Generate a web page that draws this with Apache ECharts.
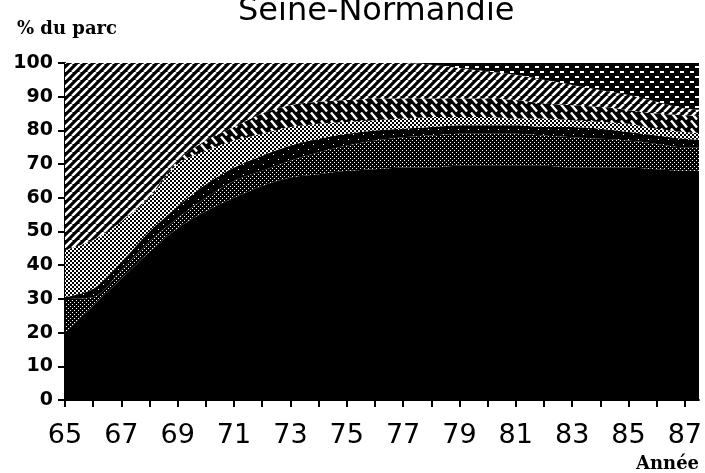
<!DOCTYPE html>
<html>
<head>
<meta charset="utf-8">
<script src="https://cdn.jsdelivr.net/npm/echarts@6/dist/echarts.min.js"></script>
<style>
  html, body { margin: 0; padding: 0; background: #fff; }
  #chart { width: 705px; height: 473px; }
</style>
</head>
<body>
<div id="chart"></div>
<script>
// années (65 = 1965)
var years = [65, 66, 67, 68, 69, 70, 71, 72, 73, 74, 75, 76, 77, 78, 79, 80, 81, 82, 83, 84, 85, 86, 87, 88]
var yTicks = [0, 10, 20, 30, 40, 50, 60, 70, 80, 90, 100]

// parts du parc (%) par couche, de bas en haut (empilées)
var layerA = [20, 28, 36, 44, 51, 56, 60, 63.5, 66, 67, 68, 68.5, 69, 69, 69.5, 69.5, 69.5, 69.5, 69, 69, 69, 68.5, 68, 68]
var layerB = [10, 2.5, 2.5, 3, 3, 4, 5, 4.5, 5, 6.5, 7.5, 8.5, 9, 9.5, 9.5, 9.5, 9.5, 9, 9, 8.5, 8, 7.5, 7, 7]
var layerC = [0.5, 2.5, 2.5, 3, 3.5, 4, 4, 4.5, 4.5, 4, 3.5, 3, 2.5, 2.5, 2.5, 2.5, 2.5, 2.5, 3, 3, 2.5, 2.5, 2.5, 2]
var layerD = [14, 14.5, 12, 10, 12.5, 10, 8, 6.5, 5.5, 4.5, 3.5, 3, 3, 3, 2.5, 2.5, 2, 2.5, 2, 2, 2.5, 2, 2, 2]
var layerF = [0, 0, 0, 0.5, 1, 3, 4, 6, 6.5, 6.5, 6.5, 6.5, 6, 5.5, 5.5, 5.5, 5.5, 4.5, 4.5, 4.5, 4, 4.5, 5, 5]
var layerG = [55.5, 52.5, 47, 39.5, 29, 23, 19, 15, 12.5, 11.5, 11, 10.5, 10.5, 10, 9, 8, 7.5, 7, 6, 5, 4.5, 3.5, 2, 2]
var layerH = [0, 0, 0, 0, 0, 0, 0, 0, 0, 0, 0, 0, 0, 0.5, 1.5, 2.5, 3.5, 5, 6.5, 8, 9.5, 11.5, 13.5, 14]

// motifs noir et blanc
function makePattern(w, h, draw) {
  var c = document.createElement('canvas')
  c.width = w
  c.height = h
  var ctx = c.getContext('2d')
  ctx.fillStyle = '#000'
  ctx.fillRect(0, 0, w, h)
  ctx.fillStyle = '#fff'
  ctx.strokeStyle = '#fff'
  draw(ctx)
  return { image: c, repeat: 'repeat' }
}

var patStipple = makePattern(4, 4, function(ctx) {
  ctx.fillRect(0, 0, 1, 1)
  ctx.fillRect(2, 2, 1, 1)
})
var patSpecks = makePattern(10, 10, function(ctx) {
  ctx.fillRect(3, 4, 1, 1)
  ctx.fillRect(8, 9, 1, 1)
})
var patChecker = makePattern(4, 4, function(ctx) {
  ctx.fillRect(0, 0, 2, 2)
  ctx.fillRect(2, 2, 2, 2)
})
var patBack = makePattern(10, 8, function(ctx) {
  ctx.lineWidth = 2.4
  ctx.beginPath()
  ctx.moveTo(1, 0.5)
  ctx.lineTo(7, 7.5)
  ctx.stroke()
})
var patSlash = makePattern(8, 8, function(ctx) {
  ctx.lineWidth = 2.6
  ctx.beginPath()
  ctx.moveTo(-8, 8); ctx.lineTo(0, 0)
  ctx.moveTo(0, 8); ctx.lineTo(8, 0)
  ctx.moveTo(8, 8); ctx.lineTo(16, 0)
  ctx.stroke()
})
var patDash = makePattern(10, 10, function(ctx) {
  ctx.fillRect(0, 1, 4, 2)
  ctx.fillRect(5, 6, 4, 2)
})

var layers = [
  { name: 'A', values: layerA, color: '#000' },
  { name: 'B', values: layerB, color: patStipple },
  { name: 'C', values: layerC, color: patSpecks },
  { name: 'D', values: layerD, color: patChecker },
  { name: 'F', values: layerF, color: patBack },
  { name: 'G', values: layerG, color: patSlash },
  { name: 'H', values: layerH, color: patDash }
]

var chart = echarts.init(document.getElementById('chart'), null, { renderer: 'canvas' })

var option = {
  animation: false,
  backgroundColor: '#fff',
  title: [
    {
      text: 'Seine-Normandie',
      left: 233,
      top: -9,
      textStyle: { fontFamily: 'DejaVu Sans', fontSize: 32, fontWeight: 'normal', color: '#000' }
    },
    {
      text: '% du parc',
      left: 12,
      top: 15,
      textStyle: { fontFamily: 'DejaVu Serif', fontSize: 18, fontWeight: 'bold', color: '#000' }
    },
    {
      text: 'Année',
      left: 631,
      top: 450,
      textStyle: { fontFamily: 'DejaVu Serif', fontSize: 18, fontWeight: 'bold', color: '#000' }
    }
  ],
  grid: { left: 65, right: 0, top: 63, bottom: 73, containLabel: false },
  xAxis: {
    type: 'value',
    min: 65,
    max: 87.5,
    interval: 1,
    axisLine: { lineStyle: { color: '#000', width: 2 } },
    axisTick: { show: true, length: 7, lineStyle: { color: '#000', width: 2 } },
    splitLine: { show: false },
    axisLabel: {
      margin: 22,
      color: '#000',
      fontFamily: 'DejaVu Sans',
      fontSize: 27,
      showMaxLabel: false,
      formatter: function(v) {
        return (v % 2 === 1 && v <= 87) ? String(v) : ''
      }
    }
  },
  yAxis: {
    type: 'value',
    min: yTicks[0],
    max: yTicks[yTicks.length - 1],
    interval: 10,
    axisLine: { show: true, lineStyle: { color: '#000', width: 2 } },
    axisTick: { show: true, length: 7, lineStyle: { color: '#000', width: 2 } },
    splitLine: { show: false },
    axisLabel: {
      margin: 12,
      color: '#000',
      fontFamily: 'DejaVu Sans',
      fontWeight: 'bold',
      fontSize: 19
    }
  },
  // valeur en première dimension pour que l'empilement se fasse sur y
  series: layers.map(function(l) {
    return {
      name: l.name,
      type: 'line',
      stack: 'parc',
      smooth: 0.3,
      symbol: 'none',
      lineStyle: { width: 0 },
      areaStyle: { color: l.color, opacity: 1 },
      emphasis: { disabled: true },
      encode: { x: 1, y: 0 },
      data: years.map(function(y, i) { return [l.values[i], y] })
    }
  })
}

chart.setOption(option)
</script>
</body>
</html>
